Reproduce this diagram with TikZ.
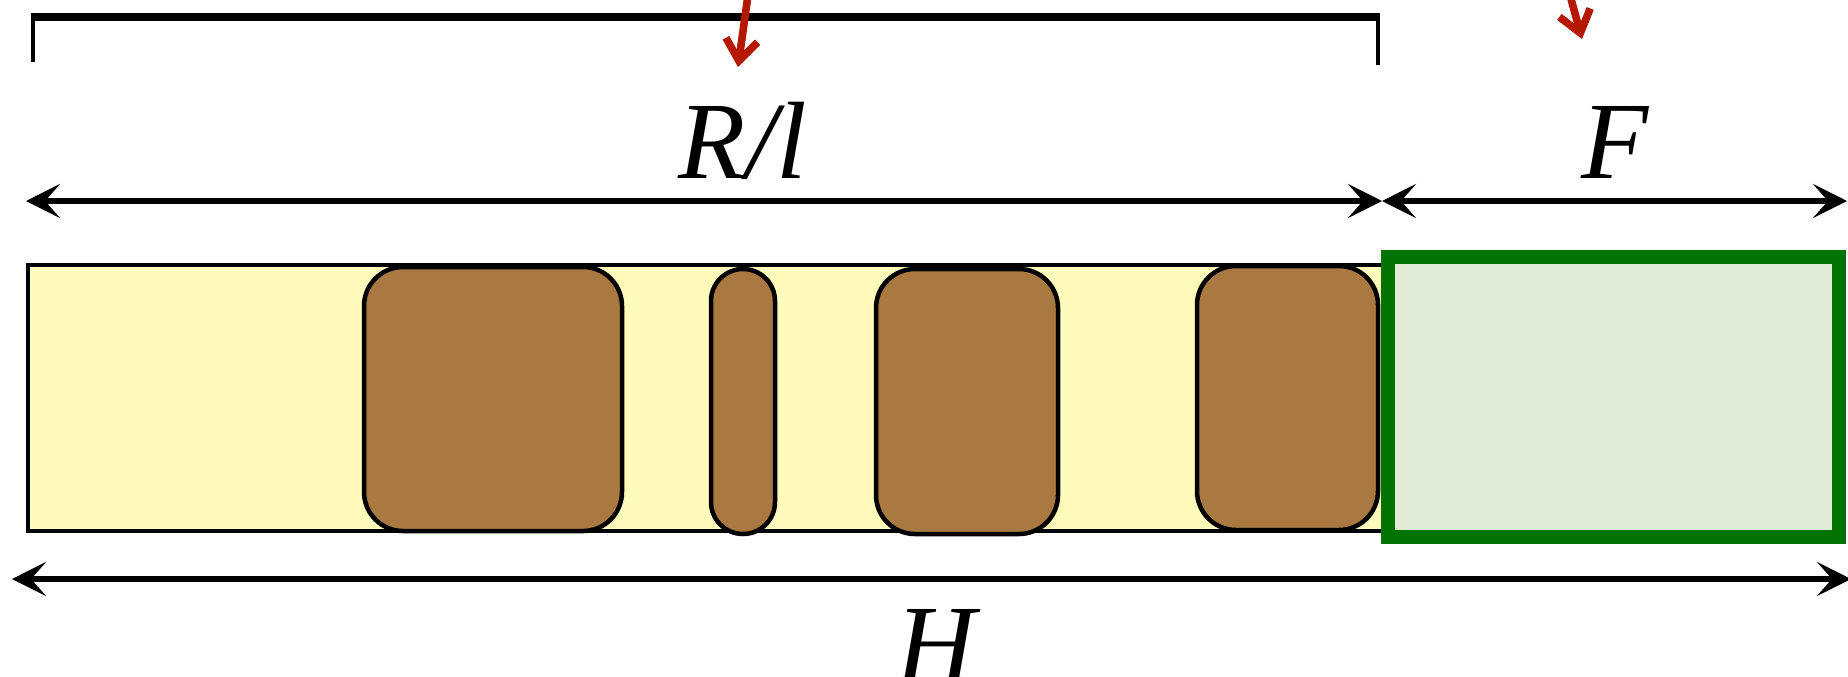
\documentclass[tikz,border=0pt]{standalone}
\usepackage{fontspec}
\setmainfont{Liberation Serif}[ItalicFont={Liberation Serif Italic}]
\usetikzlibrary{arrows.meta,fit}
\definecolor{stripfill}{RGB}{255,251,186}
\definecolor{clump}{RGB}{169,121,65}
\definecolor{zonegreen}{RGB}{0,115,0}
\definecolor{zonefill}{RGB}{223,235,213}
\definecolor{pointer}{RGB}{180,25,0}
\begin{document}
\begin{tikzpicture}[x=0.5pt,y=-0.5pt,
  strip/.style={draw=black, fill=stripfill, line width=2.25pt, inner sep=0pt},
  clumpbox/.style={draw=black, fill=clump, line width=2.25pt, inner sep=0pt, rounded corners=19.5pt},
  zone/.style={draw=zonegreen, fill=zonefill, line width=7pt, inner sep=0pt},
  dimline/.style={line width=3.25pt,
    {Stealth[length=17pt,width=17pt,inset=7.5pt]}-{Stealth[length=17pt,width=17pt,inset=7.5pt]}},
  dimtext/.style={font=\fontsize{55}{62}\selectfont\itshape, inner sep=0pt, anchor=base},
  bracketarm/.style={line width=2.2pt},
  bracketbar/.style={line width=3.7pt},
  pointerarrow/.style={draw=pointer, line width=3.8pt, -{Straight Barb[length=10.5pt,width=16pt]}}
]
\useasboundingbox (0,0) rectangle (1848,676);

% base strip with the four clumps
\node[strip, fit={(28,265)(1388,531)}] (stripbox) {};
\node[clumpbox, fit={(364,267)(622,531)}] (c1) {};
\node[clumpbox, rounded corners=16pt, fit={(711,269)(775,534)}] (c2) {};
\node[clumpbox, fit={(876,269)(1058,534)}] (c3) {};
\node[clumpbox, fit={(1197,266)(1378,530)}] (c4) {};

% free zone on the right
\node[zone, fit={(1388,257)(1839,537)}] (fz) {};

% dimension lines
\coordinate (rlA) at (26,201);
\coordinate (rlB) at (1382,201);
\coordinate (fB) at (1847,201);
\coordinate (hA) at (12,579);
\coordinate (hB) at (1851,579);
\draw[dimline] (rlA) -- (rlB);
\draw[dimline] (rlB) -- (fB);
\draw[dimline] (hA) -- (hB);

\node[dimtext] (tRl) at (743,178) {R/l};
\node[dimtext] (tF) at (1615,178) {F};
\node[dimtext] (tH) at (936,681) {H};

% bracket at the top
\coordinate (brL) at (33,62);
\coordinate (brLt) at (33,17);
\coordinate (brRt) at (1378,17);
\coordinate (brR) at (1378,65);
\draw[bracketarm] (brL) -- (brLt);
\draw[bracketarm] (brR) -- (brRt);
\draw[bracketbar] ([xshift=-1.1pt]brLt) -- ([xshift=1.1pt]brRt);

% incoming red pointers
\coordinate (p1from) at (749,-12);
\coordinate (p1to) at (738,67);
\coordinate (p2from) at (1568,-12);
\coordinate (p2to) at (1582,39);
\draw[pointerarrow] (p1from) -- (p1to);
\draw[pointerarrow] (p2from) -- (p2to);
\end{tikzpicture}
\end{document}
